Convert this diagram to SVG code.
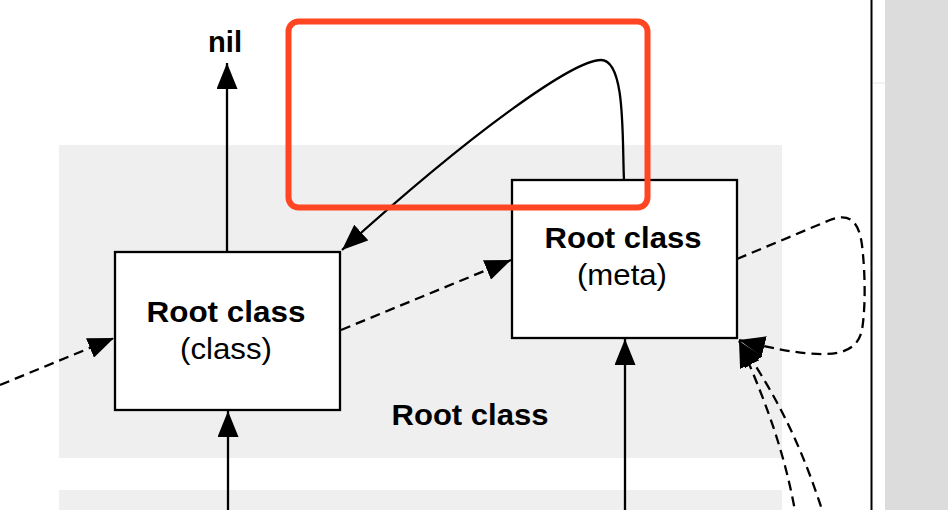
<svg xmlns="http://www.w3.org/2000/svg" width="948" height="510" viewBox="0 0 948 510">
<style>
.bg{fill:#efefef}
.box{fill:#fff;stroke:#000;stroke-width:2.3}
.t{font-family:"Liberation Sans",Arial,Helvetica,sans-serif;font-size:29px;fill:#000;text-anchor:middle}
.b{font-weight:bold}
.solid{fill:none;stroke:#000;stroke-width:2.3}
.dash{fill:none;stroke:#000;stroke-width:2.3;stroke-dasharray:10 6}
</style>
<defs>
<marker id="ah" markerUnits="userSpaceOnUse" markerWidth="27" markerHeight="21" refX="26" refY="10.5" orient="auto">
<path d="M0,0 L26,10.5 L0,21 Z" fill="#000"/>
</marker>
</defs>
<rect x="0" y="0" width="948" height="510" fill="#fff"/>
<rect class="bg" x="59" y="145" width="723" height="313"/>
<rect class="bg" x="59" y="490" width="723" height="20"/>
<rect x="885" y="0" width="63" height="510" fill="#dcdcdc"/>
<line x1="873" y1="83" x2="885" y2="83" stroke="#e6e6e6" stroke-width="1"/>
<line x1="871.5" y1="0" x2="871.5" y2="510" stroke="#000" stroke-width="2"/>
<text class="t b" x="470" y="425" textLength="157" lengthAdjust="spacingAndGlyphs">Root class</text>
<g id="nil">
<text class="t b" x="225" y="52" textLength="34" lengthAdjust="spacingAndGlyphs">nil</text>
</g>
<g id="connectors">
<line class="solid" x1="227" y1="252" x2="227" y2="63" marker-end="url(#ah)"/>
<path class="solid" d="M624 180 C622 140,626 60,601 60 C575 60,480 125,342 250" marker-end="url(#ah)"/>
<line class="dash" x1="0" y1="385" x2="114" y2="338" marker-end="url(#ah)"/>
<line class="dash" x1="341" y1="330" x2="511" y2="260" marker-end="url(#ah)"/>
<line class="solid" x1="228" y1="510" x2="228" y2="411" marker-end="url(#ah)"/>
<line class="solid" x1="625" y1="510" x2="625" y2="339" marker-end="url(#ah)"/>
<path class="dash" d="M737 259 L830 220 C850 212,859 222,862 245 C865 270,866 305,862 330 C856 358,825 362,739 340" marker-end="url(#ah)"/>
<path class="dash" d="M797 522 C787 462,770 410,739 341" marker-end="url(#ah)"/>
<path class="dash" d="M826 522 C804 452,780 400,739 341" marker-end="url(#ah)"/>
</g>
<g id="root-class">
<rect class="box" x="115" y="252" width="225" height="158"/>
<text class="t b" x="226" y="322" textLength="159" lengthAdjust="spacingAndGlyphs">Root class</text>
<text class="t" x="226" y="359" textLength="92" lengthAdjust="spacingAndGlyphs">(class)</text>
</g>
<g id="root-meta">
<rect class="box" x="512" y="180" width="225" height="158"/>
<text class="t b" x="623" y="248" textLength="157" lengthAdjust="spacingAndGlyphs">Root class</text>
<text class="t" x="622" y="285" textLength="90" lengthAdjust="spacingAndGlyphs">(meta)</text>
</g>
<rect x="288.5" y="21.5" width="359" height="186" rx="10" ry="10" fill="none" stroke="#ff4521" stroke-width="6"/>
</svg>
